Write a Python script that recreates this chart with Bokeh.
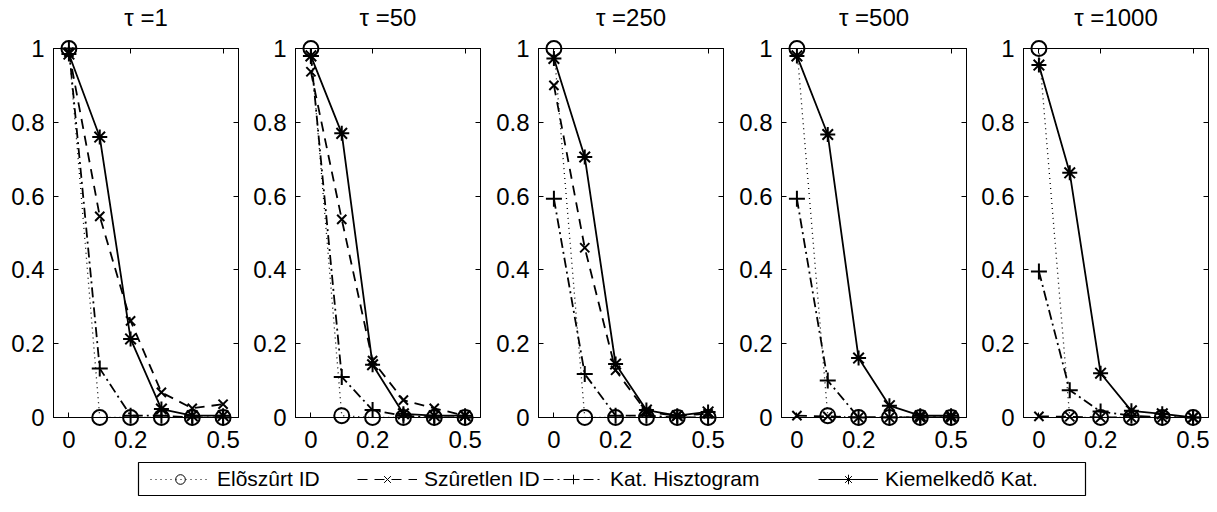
from bokeh.plotting import figure
from bokeh.layouts import column, row
from bokeh.models import (Range1d, FixedTicker, LinearAxis, Legend, LegendItem, Label,
                          CustomJSTickFormatter, ColumnDataSource)
from bokeh.embed import file_html
from bokeh.resources import INLINE

FONT = "Liberation Sans"

# ---------------- data ----------------
x_vals = [0.0, 0.1, 0.2, 0.3, 0.4, 0.5]
tau_labels = ["1", "50", "250", "500", "1000"]
x_ticks = [0, 0.2, 0.5]
y_ticks = [0, 0.2, 0.4, 0.6, 0.8, 1.0]

series_names = ["Elõszûrt ID", "Szûretlen ID", "Kat. Hisztogram", "Kiemelkedõ Kat."]

eloszurt = [
    [1.0, 0.0, 0.0, 0.0, 0.0, 0.0],
    [1.0, 0.005, 0.0, 0.0, 0.0, 0.0],
    [1.0, 0.0, 0.0, 0.0, 0.0, 0.0],
    [1.0, 0.005, 0.0, 0.0, 0.0, 0.0],
    [1.0, 0.0, 0.0, 0.0, 0.0, 0.0],
]
szuretlen = [
    [0.99, 0.545, 0.262, 0.068, 0.025, 0.036],
    [0.937, 0.537, 0.154, 0.047, 0.025, 0.005],
    [0.90, 0.46, 0.128, 0.015, 0.005, 0.01],
    [0.005, 0.003, 0.0, 0.0, 0.0, 0.0],
    [0.003, 0.002, 0.0, 0.0, 0.0, 0.0],
]
kat_hiszt = [
    [1.0, 0.133, 0.005, 0.005, 0.0, 0.0],
    [0.98, 0.11, 0.02, 0.005, 0.0, 0.0],
    [0.593, 0.118, 0.005, 0.005, 0.0, 0.0],
    [0.593, 0.10, 0.0, 0.0, 0.0, 0.0],
    [0.396, 0.074, 0.016, 0.005, 0.0, 0.0],
]
kiemelkedo = [
    [0.985, 0.76, 0.213, 0.023, 0.005, 0.005],
    [0.98, 0.77, 0.143, 0.01, 0.005, 0.005],
    [0.973, 0.706, 0.145, 0.02, 0.005, 0.015],
    [0.98, 0.767, 0.161, 0.032, 0.005, 0.005],
    [0.955, 0.663, 0.12, 0.018, 0.01, 0.0],
]

all_series = [eloszurt, szuretlen, kat_hiszt, kiemelkedo]

# ---------------- styles ----------------
styles = [
    dict(dash="1 4", lw=1.3, marker="circle", size=15),
    dict(dash="10 7", lw=1.8, marker="x", size=13),
    dict(dash="10 4 2 4", lw=1.8, marker="cross", size=16),
    dict(dash="solid", lw=1.8, marker="asterisk", size=15),
]
leg_sizes = [10, 9, 11, 11]
leg_item_x = [12, 219, 405, 680]   # legend item offsets inside the legend box (px)

fmt = CustomJSTickFormatter(code="return (Math.round(tick*10)/10).toString()")

OFF = 8
LEFT = 45
FRAME_W = 185
RIGHTS = [12, 13, 13, 12, 1]
TITLE_H = 32
TOP = 16
BOTTOM = 41
FRAME_H = 369
X0, X1 = -0.05, 0.55


def borders(i):
    return LEFT + (OFF if i == 0 else 0), RIGHTS[i]


def make_title(i):
    L, R = borders(i)
    t = figure(width=L + FRAME_W + R, height=TITLE_H,
               x_range=Range1d(X0, X1), y_range=Range1d(0, 1),
               output_backend="svg", toolbar_location=None,
               min_border_left=L, min_border_right=R, min_border_top=0, min_border_bottom=0,
               x_axis_type=None, y_axis_type=None)
    t.xgrid.visible = False
    t.ygrid.visible = False
    t.outline_line_color = None
    t.add_layout(Label(x=(X0 + X1) / 2, y=0, y_offset=15,
                       text="\u03c4 =" + tau_labels[i], text_align="center",
                       text_baseline="alphabetic", text_font=FONT,
                       text_font_size="24px", text_color="black"))
    return t


def make_panel(i):
    L, R = borders(i)
    p = figure(width=L + FRAME_W + R, height=TOP + FRAME_H + BOTTOM,
               x_range=Range1d(X0, X1), y_range=Range1d(0, 1),
               output_backend="svg", toolbar_location=None,
               min_border_left=L, min_border_right=R,
               min_border_top=TOP, min_border_bottom=BOTTOM)
    p.xgrid.visible = False
    p.ygrid.visible = False
    p.outline_line_color = "black"
    p.outline_line_width = 1
    p.background_fill_color = "white"
    p.border_fill_color = "white"

    for ax, ticks, standoff in ((p.xaxis[0], x_ticks, 13), (p.yaxis[0], y_ticks, 9)):
        ax.ticker = FixedTicker(ticks=ticks)
        ax.formatter = fmt
        ax.major_tick_in = 5
        ax.major_tick_out = 0
        ax.minor_tick_line_color = None
        ax.major_tick_line_color = "black"
        ax.axis_line_color = "black"
        ax.major_label_text_font = FONT
        ax.major_label_text_font_size = "24px"
        ax.major_label_text_color = "black"
        ax.major_label_standoff = standoff

    for side, ticks in (("above", x_ticks), ("right", y_ticks)):
        ax = LinearAxis(ticker=FixedTicker(ticks=ticks), major_tick_in=5, major_tick_out=0,
                        minor_tick_line_color=None, major_label_text_font_size="1px",
                        major_label_text_color=None,
                        major_label_standoff=0, axis_line_color="black")
        p.add_layout(ax, side)

    for s, st in zip(all_series, styles):
        src = ColumnDataSource(dict(x=x_vals, y=s[i]))
        p.line("x", "y", source=src, line_color="black", line_width=st["lw"],
               line_dash=st["dash"])
    for s, st in zip(all_series, styles):
        src = ColumnDataSource(dict(x=x_vals, y=s[i]))
        p.scatter("x", "y", source=src, marker=st["marker"], size=st["size"],
                  fill_color=None, line_color="black", line_width=2, level="overlay")
    return p


titles = [make_title(i) for i in range(5)]
panels = [make_panel(i) for i in range(5)]

# ---------------- legend (the frame of this figure is the legend box) ----------------
LB_LEFT, LB_W, LB_TOP, LB_H = 138, 947, 4, 33
total_w = 1201 + OFF
lf = figure(width=total_w, height=LB_TOP + LB_H + 9,
            x_range=Range1d(0, 1), y_range=Range1d(0, 1),
            output_backend="svg", toolbar_location=None,
            min_border_left=LB_LEFT, min_border_right=total_w - LB_LEFT - LB_W,
            min_border_top=LB_TOP, min_border_bottom=9,
            x_axis_type=None, y_axis_type=None)
lf.xgrid.visible = False
lf.ygrid.visible = False
lf.outline_line_color = "black"
lf.outline_line_width = 1.2

nan = float("nan")
for name, st, ls, lx in zip(series_names, styles, leg_sizes, leg_item_x):
    rl = lf.line(x=[nan], y=[nan], line_color="black",
                 line_width=1 if st["dash"] == "solid" else 1.2, line_dash=st["dash"])
    rm = lf.scatter(x=[nan], y=[nan], marker=st["marker"], size=ls, fill_color=None,
                    line_color="black", line_width=1)
    leg = Legend(items=[LegendItem(label=name, renderers=[rl, rm])],
                 location=(lx, 4), border_line_color=None, background_fill_alpha=0,
                 label_text_font=FONT, label_text_font_size="21px",
                 label_text_color="black", glyph_width=60, glyph_height=24,
                 label_standoff=7, padding=0, margin=0)
    lf.add_layout(leg)

layout = column(row(*titles, spacing=0), row(*panels, spacing=0), lf, spacing=0)

html = file_html(layout, INLINE)
open("out.html", "w").write(html)
